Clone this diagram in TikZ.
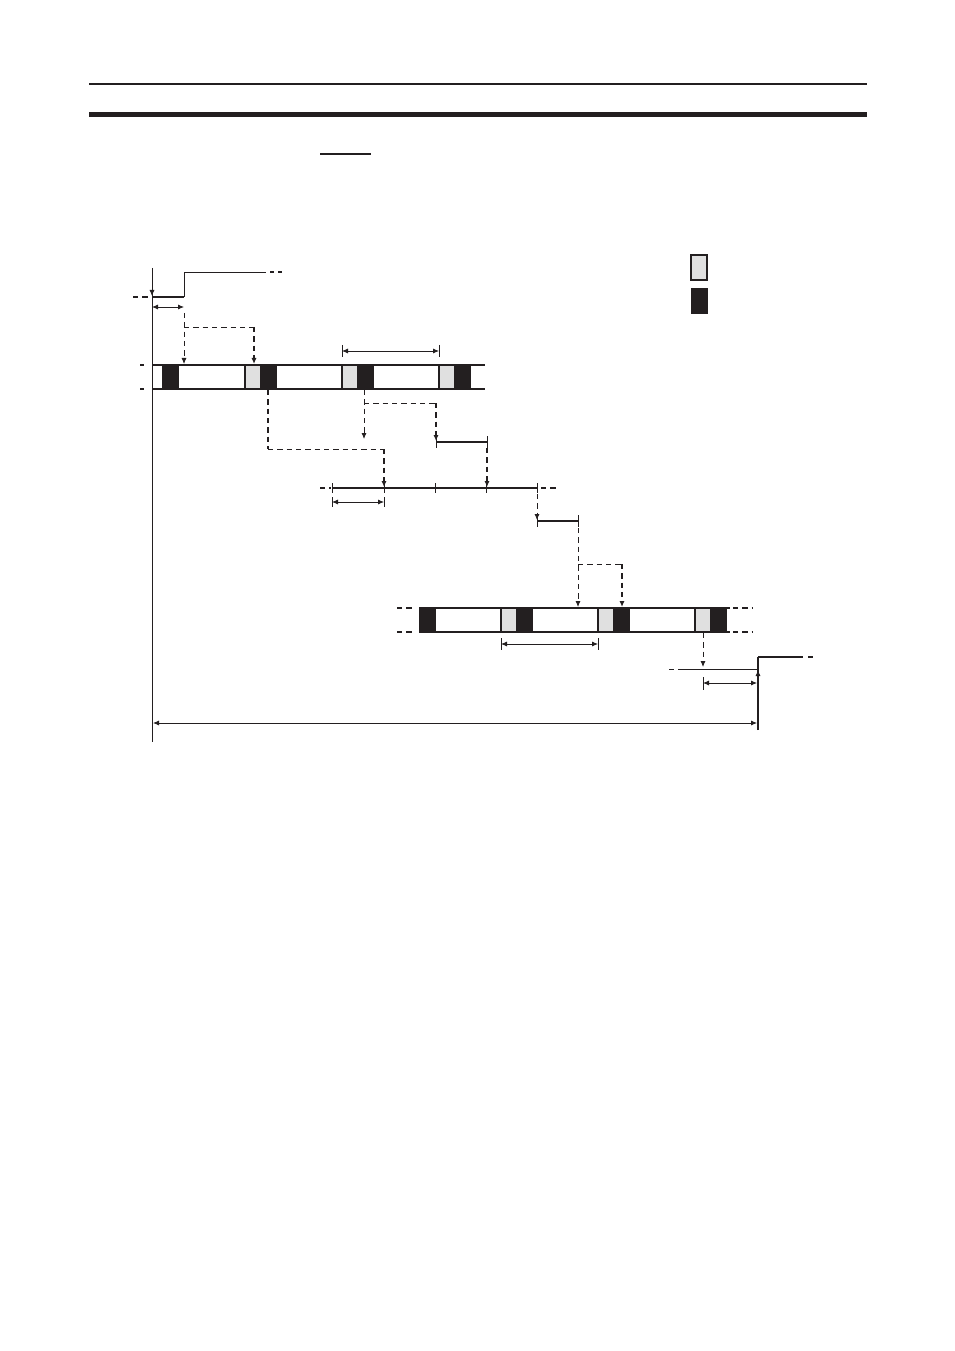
\documentclass[tikz,border=0pt]{standalone}
\usepackage{tikz}
\usetikzlibrary{arrows.meta, positioning, calc}
\definecolor{lightgrey}{HTML}{E0E0E0}
\definecolor{darkblk}{HTML}{231F20}

\begin{document}
\begin{tikzpicture}[x=0.75pt, y=-0.75pt, line width=0.6pt, draw=darkblk,
    sig/.style={line width=1.6pt},
    dsh/.style={dash pattern=on 4pt off 3pt, line width=0.6pt},
    dshb/.style={dash pattern=on 4pt off 3pt, line width=1.2pt},
    dots/.style={dash pattern=on 3pt off 3pt, line width=0.8pt},
    tip/.style={-{Latex[length=4.5pt,width=3.8pt]}},
    dim/.style={{Latex[length=4.5pt,width=3.8pt]}-{Latex[length=4.5pt,width=3.8pt]}},
    gblock/.style={fill=lightgrey, draw=darkblk, line width=0.8pt},
    bblock/.style={fill=darkblk, draw=darkblk}]

        \useasboundingbox (0,0) rectangle (954,1351);

        % Page header rules
        \draw[line width=1pt] (89,84) -- (867,84);
        \fill[darkblk] (89,112) rectangle (867,117);
        \draw[line width=1pt] (320,154) -- (371,154);

        % Legend
        \filldraw[gblock] (691,255) rectangle (707,280); % grey block
        \filldraw[bblock] (691,288) rectangle (707,313); % black block

        % Time axis
        \coordinate (O) at (152,268);
        \coordinate (Oend) at (152,742);
        \draw (O) -- (Oend);

        % Input signal
        \coordinate (inLo) at (152,297);
        \coordinate (inStep) at (184,297);
        \coordinate (inHi) at (184,272);
        \coordinate (inEnd) at (266,272);
        \draw[dshb] (133,297) -- (150,297);
        \draw[sig] (inLo) -- (inStep);
        \draw[line width=0.7pt] (inStep) -- (inHi) -- (inEnd);
        \draw[dots] (270,272) -- (284,272);
        \draw[tip] (152,280) -- (152,296); % trigger on axis
        \draw[dim] (152,307) -- (184,307);

        % Input to first cycle bar
        \draw[dsh, tip] (184,313) -- (184,364);
        \draw[dsh] (184,327) -- (254,327);
        \draw[dshb, tip] (254,327) -- (254,364);

        % First cycle bar
        \draw[dots] (140,365) -- (148,365);
        \draw[dots] (140,389) -- (148,389);
        \fill[darkblk] (162,365) rectangle (179,389);
        \foreach \g in {245,342,439} {
            \fill[lightgrey] (\g,365) rectangle (\g+15,389);
            \fill[darkblk] (\g+15,365) rectangle (\g+32,389);
            \draw[line width=0.9pt] (\g,365) -- (\g,389);
        }
        \draw[line width=0.9pt] (152,365) -- (485,365);
        \draw[line width=0.9pt] (152,389) -- (485,389);

        % Cycle time of first bar
        \draw[dim] (342,351) -- (439,351);
        \draw (342,345) -- (342,357);
        \draw (439,345) -- (439,357);

        % First bar to timer line
        \draw[dshb] (268,390) -- (268,449);
        \draw[dsh] (268,449) -- (384,449);
        \draw[dshb, tip] (384,449) -- (384,487);
        \draw[dsh, tip] (364,390) -- (364,439);
        \draw[dsh] (364,403) -- (436,403);
        \draw[dshb, tip] (436,403) -- (436,441);

        % Pulse segment
        \draw[sig] (436,442) -- (487,442);
        \draw (436,436) -- (436,448);
        \draw (487,436) -- (487,448);
        \draw[dshb, tip] (487,448) -- (487,487);

        % Timer line
        \draw[dshb] (320,488) -- (331,488);
        \draw[line width=1.1pt] (332,488) -- (537,488);
        \draw[sig] (486,488) -- (537,488);
        \draw[dshb] (541,488) -- (556,488);
        \foreach \t in {332,384,435,486,537}
            \draw (\t,483) -- (\t,493);
        \draw[dim] (332,502) -- (384,502);
        \draw (332,497) -- (332,507);
        \draw (384,497) -- (384,507);

        % Second pulse segment
        \draw[dsh, tip] (537,494) -- (537,520);
        \draw[sig] (537,521) -- (578,521);
        \draw (537,515) -- (537,527);
        \draw (578,515) -- (578,527);

        % To second cycle bar
        \draw[dsh, tip] (578,528) -- (578,607);
        \draw[dsh] (578,564) -- (622,564);
        \draw[dshb, tip] (622,564) -- (622,607);

        % Second cycle bar
        \draw[dshb] (397,608) -- (414,608);
        \draw[dshb] (397,632) -- (414,632);
        \draw[dshb] (733,608) -- (752,608);
        \draw[dshb] (733,632) -- (752,632);
        \fill[darkblk] (419,608) rectangle (436,632);
        \foreach \g in {501,598,695} {
            \fill[lightgrey] (\g,608) rectangle (\g+15,632);
            \fill[darkblk] (\g+15,608) rectangle (\g+32,632);
            \draw[line width=0.9pt] (\g,608) -- (\g,632);
        }
        \draw[line width=0.9pt] (419,608) -- (730,608);
        \draw[line width=0.9pt] (419,632) -- (730,632);

        % Cycle time of second bar
        \draw[dim] (501,644) -- (598,644);
        \draw (501,638) -- (501,650);
        \draw (598,638) -- (598,650);

        % Output signal
        \coordinate (outLo) at (758,730);
        \coordinate (outStep) at (758,657);
        \coordinate (outEnd) at (803,657);
        \draw[dsh, tip] (703,633) -- (703,667);
        \draw[dsh] (669,669) -- (676,669);
        \draw (678,669) -- (758,669);
        \draw[line width=0.9pt] (outLo) -- (outStep);
        \draw[sig] (outStep) -- (outEnd);
        \draw[dshb] (808,657) -- (817,657);
        \draw[tip] (758,682) -- (758,670);
        \draw[dim] (703,683) -- (757,683);
        \draw (703,677) -- (703,690);

        % Total response time
        \draw[dim] (153,723) -- (757,723);

\end{tikzpicture}
\end{document}
